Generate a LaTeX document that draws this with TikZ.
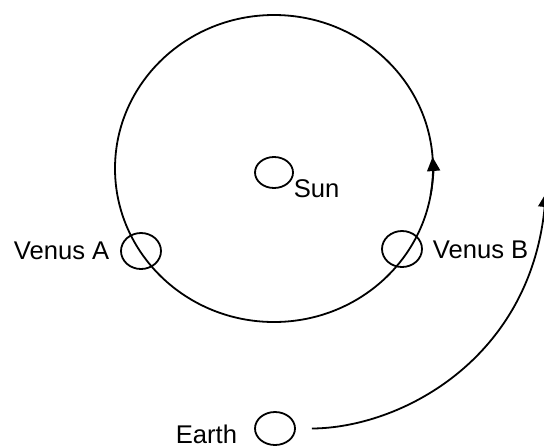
\documentclass[tikz,border=0pt]{standalone}
\usepackage{fontspec}
\setmainfont{Liberation Sans}
\usetikzlibrary{shapes.geometric, arrows.meta}
\tikzset{
  body/.style={ellipse, draw, line width=0.9pt, inner sep=0pt, minimum width=20pt, minimum height=18pt},
  lbl/.style={anchor=base west, inner sep=0pt, font=\fontsize{12.8}{15.4}\selectfont},
  tip/.style={-{Triangle[length=7pt, width=6.5pt]}}
}
\begin{document}
\begin{tikzpicture}[x=0.5pt, y=0.5pt, line width=0.9pt]
\useasboundingbox (0,0) rectangle (544,446);
% Orbit of Venus
\coordinate (orbit) at (274,277.5);
\draw (orbit) ellipse [x radius=159, y radius=153.5];
\draw[tip] (orbit) ++(-10:159 and 153.5) arc [start angle=-10, end angle=4.3, x radius=159, y radius=153.5];

% Sun
\node[body, minimum width=19pt, minimum height=15.5pt] (sun) at (274,273.5) {};
\node[lbl] (sunlbl) at (293,249) {Sun};

% Venus
\node[body] (venusA) at (141,195) {};
\node[lbl] (venusAlbl) at (13,187) {Venus A};
\node[body] (venusB) at (402,197) {};
\node[lbl] (venusBlbl) at (432,188) {Venus B};

% Earth
\node[body, minimum height=16.5pt] (earth) at (275,17.5) {};
\node[lbl] (earthlbl) at (175,3) {Earth};
\coordinate (view) at (546,253);
\draw[tip] ([xshift=8pt]earth.east) .. controls (400,18) and (530,86) .. (view);
\end{tikzpicture}
\end{document}
